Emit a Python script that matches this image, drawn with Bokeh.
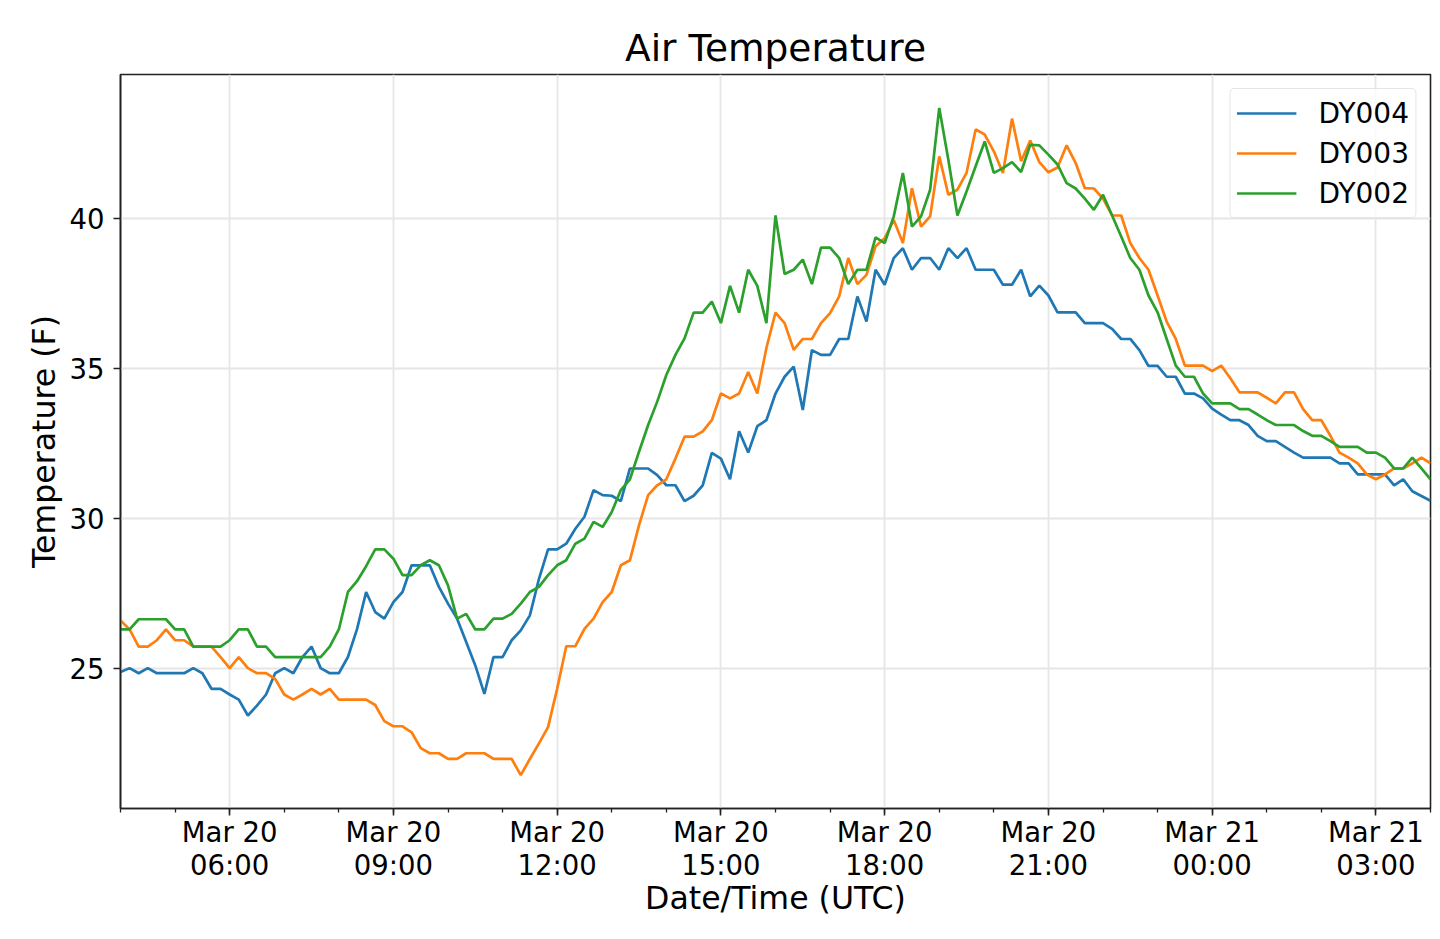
import pandas as pd
from bokeh.plotting import figure
from bokeh.models import FixedTicker, DatetimeTickFormatter, Range1d, Legend, LegendItem
from bokeh.embed import file_html
from bokeh.resources import INLINE

# ---------------- data ----------------
start_time = "2018-03-20 04:00"
step = "10min"

dy004 = [24.87, 25.0, 24.83, 25.0, 24.83, 24.83, 24.83, 24.83, 25.0, 24.83,
         24.31, 24.31, 24.12, 23.95, 23.42, 23.75, 24.12, 24.83, 25.0, 24.83,
         25.37, 25.72, 25.0, 24.83, 24.83, 25.37, 26.3, 27.54, 26.87, 26.65,
         27.2, 27.54, 28.43, 28.43, 28.43, 27.71, 27.15, 26.65, 25.87, 25.09,
         24.14, 25.37, 25.37, 25.93, 26.26, 26.76, 27.98, 28.96, 28.96, 29.15,
         29.65, 30.05, 30.94, 30.77, 30.75, 30.57, 31.66, 31.66, 31.66, 31.44,
         31.1, 31.1, 30.57, 30.75, 31.1, 32.18, 31.99, 31.3, 32.9, 32.19,
         33.07, 33.27, 34.16, 34.72, 35.06, 33.61, 35.61, 35.45, 35.45, 35.98,
         35.98, 37.4, 36.56, 38.29, 37.79, 38.68, 39.01, 38.29, 38.68, 38.68,
         38.29, 39.01, 38.68, 39.01, 38.29, 38.29, 38.29, 37.79, 37.79, 38.29,
         37.4, 37.76, 37.43, 36.87, 36.87, 36.87, 36.51, 36.51, 36.51, 36.32,
         35.98, 35.98, 35.61, 35.08, 35.08, 34.72, 34.72, 34.16, 34.16, 34.0,
         33.66, 33.46, 33.27, 33.27, 33.11, 32.75, 32.57, 32.57, 32.38, 32.19,
         32.02, 32.02, 32.02, 32.02, 31.83, 31.83, 31.46, 31.46, 31.46, 31.46,
         31.1, 31.3, 30.9, 30.74, 30.58]

dy003 = [26.59, 26.29, 25.72, 25.72, 25.93, 26.29, 25.93, 25.93, 25.72, 25.72,
         25.72, 25.37, 25.0, 25.37, 25.0, 24.83, 24.83, 24.64, 24.12, 23.95,
         24.12, 24.31, 24.12, 24.31, 23.95, 23.95, 23.95, 23.95, 23.77, 23.23,
         23.06, 23.06, 22.86, 22.33, 22.16, 22.16, 21.97, 21.97, 22.16, 22.16,
         22.16, 21.97, 21.97, 21.97, 21.43, 21.97, 22.49, 23.03, 24.31, 25.73,
         25.73, 26.31, 26.65, 27.2, 27.54, 28.43, 28.6, 29.77, 30.77, 31.1,
         31.3, 31.99, 32.72, 32.72, 32.9, 33.27, 34.16, 34.0, 34.16, 34.88,
         34.16, 35.68, 36.86, 36.51, 35.62, 35.98, 35.98, 36.51, 36.84, 37.4,
         38.68, 37.81, 38.12, 39.07, 39.34, 39.95, 39.18, 41.01, 39.73, 40.07,
         42.07, 40.79, 40.96, 41.52, 42.97, 42.8, 42.24, 41.52, 43.33, 41.91,
         42.6, 41.88, 41.54, 41.7, 42.44, 41.85, 41.01, 41.0, 40.66, 40.1,
         40.1, 39.18, 38.68, 38.29, 37.43, 36.56, 35.98, 35.09, 35.09, 35.09,
         34.91, 35.09, 34.67, 34.2, 34.2, 34.2, 34.02, 33.83, 34.2, 34.2,
         33.64, 33.27, 33.27, 32.75, 32.19, 32.02, 31.83, 31.46, 31.3, 31.46,
         31.66, 31.66, 31.83, 32.02, 31.83]

dy002 = [26.29, 26.29, 26.63, 26.63, 26.63, 26.63, 26.29, 26.29, 25.72, 25.72,
         25.72, 25.72, 25.93, 26.29, 26.29, 25.72, 25.72, 25.37, 25.37, 25.37,
         25.37, 25.37, 25.37, 25.72, 26.29, 27.54, 27.9, 28.4, 28.96, 28.96,
         28.65, 28.1, 28.1, 28.43, 28.6, 28.43, 27.76, 26.65, 26.81, 26.29,
         26.29, 26.65, 26.65, 26.81, 27.15, 27.54, 27.71, 28.1, 28.43, 28.6,
         29.15, 29.32, 29.88, 29.71, 30.21, 30.94, 31.3, 32.22, 33.11, 33.89,
         34.78, 35.45, 36.0, 36.86, 36.86, 37.23, 36.51, 37.75, 36.86, 38.29,
         37.75, 36.51, 40.1, 38.15, 38.29, 38.63, 37.81, 39.03, 39.03, 38.68,
         37.81, 38.29, 38.29, 39.37, 39.18, 40.07, 41.52, 39.73, 40.07, 40.96,
         43.69, 41.96, 40.1, 40.9, 41.74, 42.57, 41.52, 41.68, 41.88, 41.55,
         42.46, 42.44, 42.13, 41.8, 41.18, 41.0, 40.66, 40.29, 40.79, 40.1,
         39.4, 38.68, 38.29, 37.43, 36.87, 35.98, 35.09, 34.72, 34.72, 34.16,
         33.83, 33.83, 33.83, 33.64, 33.64, 33.46, 33.27, 33.11, 33.11, 33.11,
         32.91, 32.75, 32.75, 32.57, 32.38, 32.38, 32.38, 32.19, 32.19, 32.02,
         31.66, 31.66, 32.02, 31.66, 31.3]

series_names = ["DY004", "DY003", "DY002"]
series_values = [dy004, dy003, dy002]
series_colors = ["#1f77b4", "#ff7f0e", "#2ca02c"]

major_tick_times = ["2018-03-20 06:00", "2018-03-20 09:00", "2018-03-20 12:00",
                    "2018-03-20 15:00", "2018-03-20 18:00", "2018-03-20 21:00",
                    "2018-03-21 00:00", "2018-03-21 03:00"]
y_ticks = [25, 30, 35, 40]

title_text = "Air Temperature"
x_label = "Date/Time (UTC)"
y_label = "Temperature (F)"

# ---------------- build ----------------
times = pd.date_range(start_time, periods=len(dy004), freq=step)


def ms(ts):
    return pd.Timestamp(ts).value / 1e6


all_vals = dy004 + dy003 + dy002
lo, hi = min(all_vals), max(all_vals)
pad = (hi - lo) * 0.05

FONT = "DejaVu Sans"

p = figure(
    x_axis_type="datetime",
    frame_width=1310, frame_height=734,
    min_border_left=120, min_border_right=2, min_border_top=74, min_border_bottom=10,
    x_range=Range1d(times[0], times[-1]),
    y_range=Range1d(lo - pad, hi + pad),
    output_backend="svg", toolbar_location=None,
    title=title_text,
)
p.background_fill_color = "white"
p.border_fill_color = "white"
p.outline_line_color = "#222222"
p.outline_line_width = 1.6

p.title.text_font = FONT
p.title.text_font_size = "37.5px"
p.title.text_font_style = "normal"
p.title.align = "center"
p.title.text_color = "black"

renderers = []
for name, vals, col in zip(series_names, series_values, series_colors):
    r = p.line(times, vals, line_color=col, line_width=2.7)
    renderers.append((name, r))

# axes
hourly = pd.date_range(times[0], times[-1], freq="1h")
p.xaxis.ticker = FixedTicker(ticks=[ms(t) for t in major_tick_times],
                             minor_ticks=[ms(t) for t in hourly])
fmt = "%b %d\n%H:%M"
p.xaxis.formatter = DatetimeTickFormatter(
    microseconds=fmt, milliseconds=fmt, seconds=fmt, minsec=fmt, minutes=fmt,
    hourmin=fmt, hours=fmt, days=fmt, months=fmt, years=fmt)
p.yaxis.ticker = FixedTicker(ticks=y_ticks)

for ax in (p.xaxis, p.yaxis):
    ax.axis_line_color = "#222222"
    ax.axis_line_width = 1.6
    ax.major_tick_line_color = "#222222"
    ax.major_tick_line_width = 1.6
    ax.minor_tick_line_color = "#222222"
    ax.minor_tick_line_width = 1.3
    ax.major_tick_in = 0
    ax.major_tick_out = 7
    ax.minor_tick_in = 0
    ax.minor_tick_out = 4
    ax.major_label_text_font = FONT
    ax.major_label_text_font_size = "27.5px"
    ax.major_label_text_color = "black"
    ax.axis_label_text_font = FONT
    ax.axis_label_text_font_size = "31.6px"
    ax.axis_label_text_font_style = "normal"
    ax.axis_label_text_color = "black"

p.xaxis.major_label_text_line_height = 1.05
p.xaxis.axis_label = x_label
p.yaxis.axis_label = y_label
p.xaxis.major_label_standoff = 0
p.xaxis.axis_label_standoff = -4
p.yaxis.major_label_standoff = 9
p.yaxis.axis_label_standoff = 5

p.xgrid.grid_line_color = "#e6e6e6"
p.ygrid.grid_line_color = "#e6e6e6"
p.xgrid.grid_line_width = 1.8
p.ygrid.grid_line_width = 1.8

legend = Legend(items=[LegendItem(label=n, renderers=[r]) for n, r in renderers],
                location="top_right")
legend.label_text_font = FONT
legend.label_text_font_size = "28px"
legend.label_text_color = "black"
legend.glyph_width = 60
legend.glyph_height = 36
legend.label_height = 36
legend.label_standoff = 22
legend.spacing = 4
legend.padding = 6
legend.margin = 14
legend.border_line_color = "#cccccc"
legend.border_line_width = 1.5
legend.border_radius = 5
legend.background_fill_color = "white"
legend.background_fill_alpha = 0.8
p.add_layout(legend)

open("out.html", "w").write(file_html(p, INLINE))
